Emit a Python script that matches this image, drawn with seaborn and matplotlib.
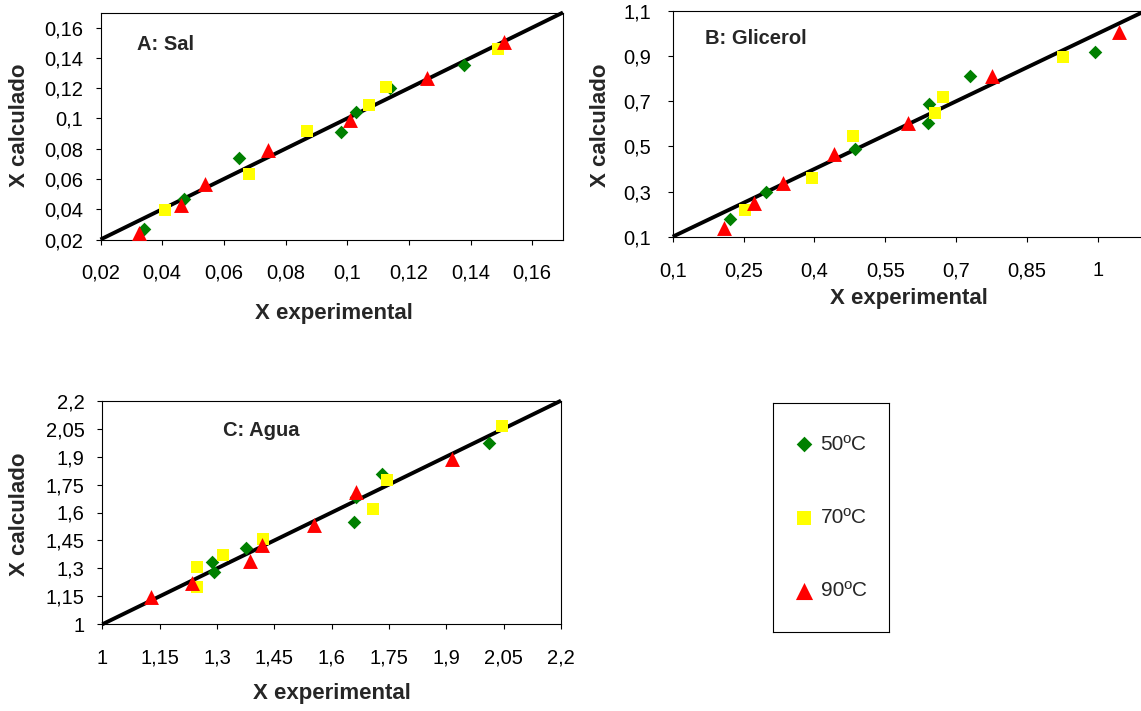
import matplotlib
matplotlib.use("Agg")
import matplotlib.pyplot as plt
import seaborn as sns

# ---------------- data ----------------
series_labels = ["50ºC", "70ºC", "90ºC"]
series_colors = ["#008000", "#FFFF00", "#FF0000"]
series_markers = ["D", "s", "^"]

# Panel A: Sal
A_50_x = [0.034, 0.047, 0.065, 0.098, 0.103, 0.114, 0.138]
A_50_y = [0.027, 0.047, 0.074, 0.091, 0.1045, 0.120, 0.135]
A_70_x = [0.041, 0.068, 0.087, 0.107, 0.1126, 0.149]
A_70_y = [0.0394, 0.063, 0.0917, 0.109, 0.121, 0.146]
A_90_x = [0.0324, 0.0461, 0.0539, 0.0744, 0.1008, 0.1258, 0.1509]
A_90_y = [0.0244, 0.0427, 0.0566, 0.0791, 0.0989, 0.1265, 0.1503]

# Panel B: Glicerol
B_50_x = [0.221, 0.298, 0.485, 0.6435, 0.640, 0.730, 0.994]
B_50_y = [0.178, 0.299, 0.487, 0.690, 0.602, 0.813, 0.919]
B_70_x = [0.253, 0.394, 0.481, 0.6555, 0.672, 0.926]
B_70_y = [0.218, 0.358, 0.546, 0.649, 0.720, 0.897]
B_90_x = [0.209, 0.273, 0.333, 0.442, 0.599, 0.776, 1.046]
B_90_y = [0.137, 0.248, 0.336, 0.466, 0.605, 0.811, 1.005]

# Panel C: Agua
C_50_x = [1.286, 1.293, 1.376, 1.659, 1.665, 1.731, 2.0125]
C_50_y = [1.336, 1.279, 1.408, 1.547, 1.685, 1.806, 1.971]
C_70_x = [1.249, 1.249, 1.317, 1.421, 1.709, 1.744, 2.0465]
C_70_y = [1.309, 1.198, 1.372, 1.456, 1.617, 1.774, 2.064]
C_90_x = [1.1265, 1.2355, 1.386, 1.419, 1.554, 1.664, 1.914]
C_90_y = [1.148, 1.2235, 1.341, 1.425, 1.533, 1.708, 1.887]

A_range = [0.02, 0.17]
A_ticks = [0.02, 0.04, 0.06, 0.08, 0.10, 0.12, 0.14, 0.16]
A_ticklabels = ["0,02", "0,04", "0,06", "0,08", "0,1", "0,12", "0,14", "0,16"]

B_range = [0.1, 1.1]
B_xticks = [0.1, 0.25, 0.4, 0.55, 0.7, 0.85, 1.0]
B_xticklabels = ["0,1", "0,25", "0,4", "0,55", "0,7", "0,85", "1"]
B_yticks = [0.1, 0.3, 0.5, 0.7, 0.9, 1.1]
B_yticklabels = ["0,1", "0,3", "0,5", "0,7", "0,9", "1,1"]

C_range = [1.0, 2.2]
C_ticks = [1.0, 1.15, 1.3, 1.45, 1.6, 1.75, 1.9, 2.05, 2.2]
C_ticklabels = ["1", "1,15", "1,3", "1,45", "1,6", "1,75", "1,9", "2,05", "2,2"]

titles = ["A: Sal", "B: Glicerol", "C: Agua"]
xlabel_text = "X experimental"
ylabel_text = "X calculado"

# ---------------- style ----------------
sns.set_style("white")
plt.rcParams["font.family"] = ["Liberation Sans", "DejaVu Sans"]

W, H = 1141, 711
fig = plt.figure(figsize=(W / 100, H / 100), dpi=100)


def add_ax(l, r, t, b):
    return fig.add_axes([l / W, 1 - b / H, (r - l) / W, (b - t) / H])


def ftext(x, y, s, **kw):
    fig.text(x / W, 1 - y / H, s, **kw)


sizes = [48, 74, 115]


def panel(ax, xs, ys, rng, xticks, xtl, yticks, ytl, xpad, ypad):
    ax.plot(rng, rng, color="black", lw=2.8, clip_on=False, zorder=2,
            solid_capstyle="butt")
    for x, y, lab, col, mk, s in zip(xs, ys, series_labels, series_colors,
                                     series_markers, sizes):
        sns.scatterplot(x=x, y=y, ax=ax, marker=mk, color=col, s=s,
                        linewidth=0, label=lab, zorder=3, clip_on=False)
    ax.set_xlim(rng)
    ax.set_ylim(rng)
    ax.set_xticks(xticks)
    ax.set_xticklabels(xtl)
    ax.set_yticks(yticks)
    ax.set_yticklabels(ytl)
    ax.tick_params(axis="both", direction="out", length=3.6, width=0.8,
                   color="black", labelsize=14.5, labelcolor="black")
    ax.tick_params(axis="x", pad=xpad, bottom=True)
    ax.tick_params(axis="y", pad=ypad, left=True)
    for sp in ax.spines.values():
        sp.set_color("black")
        sp.set_linewidth(0.8)
        sp.set_visible(True)
    ax.set_xlabel("")
    ax.set_ylabel("")
    if ax.get_legend() is not None:
        ax.get_legend().remove()


axA = add_ax(100.5, 563, 12.5, 239.5)
panel(axA, [A_50_x, A_70_x, A_90_x], [A_50_y, A_70_y, A_90_y], A_range,
      A_ticks, A_ticklabels, A_ticks, A_ticklabels, 14, 9)

axB = add_ax(672.7, 1145, 11, 236.7)
panel(axB, [B_50_x, B_70_x, B_90_x], [B_50_y, B_70_y, B_90_y], B_range,
      B_xticks, B_xticklabels, B_yticks, B_yticklabels, 14, 12)

axC = add_ax(102.3, 561, 400.7, 624.3)
panel(axC, [C_50_x, C_70_x, C_90_x], [C_50_y, C_70_y, C_90_y], C_range,
      C_ticks, C_ticklabels, C_ticks, C_ticklabels, 14, 9)

# titles inside panels
ftext(137, 44, titles[0], fontsize=14.5, fontweight="bold", va="center", ha="left")
ftext(705, 39, titles[1], fontsize=14.5, fontweight="bold", va="center", ha="left")
ftext(223, 430, titles[2], fontsize=14.5, fontweight="bold", va="center", ha="left")

# axis labels
for (x, y) in [(334, 313), (909, 298), (332, 693)]:
    ftext(x, y, xlabel_text, fontsize=16, fontweight="bold", ha="center", va="center")
for (x, y) in [(20, 125), (600, 125), (20, 514)]:
    ftext(x, y, ylabel_text, fontsize=16, fontweight="bold", ha="center",
          va="center", rotation=90)

# legend box
handles, labels = axC.get_legend_handles_labels()
axL = add_ax(773, 889, 403, 632)
axL.set_xticks([])
axL.set_yticks([])
for sp in axL.spines.values():
    sp.set_color("black")
    sp.set_linewidth(0.8)
    sp.set_visible(True)
axL.legend(handles, labels, loc="center", frameon=False, fontsize=15,
           labelspacing=2.6, handlelength=0.8, handletextpad=0.4,
           borderpad=0.5, markerscale=1.15)

fig.savefig("out.png", dpi=100)
